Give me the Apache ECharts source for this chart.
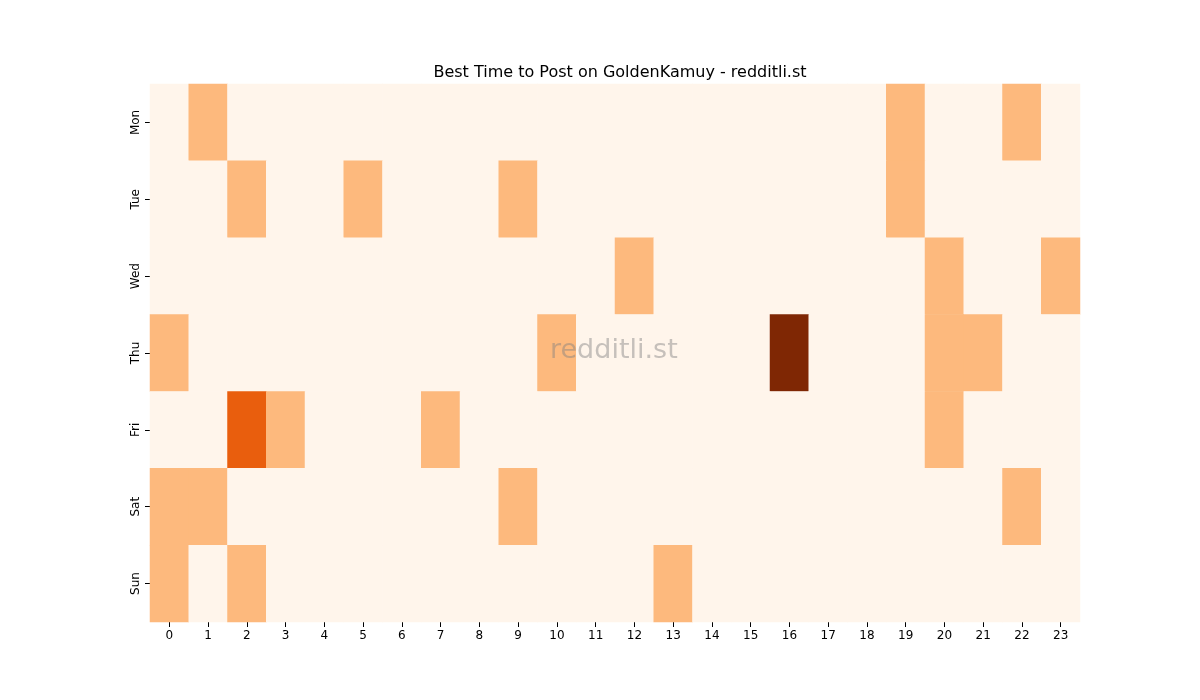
<!DOCTYPE html>
<html>
<head>
<meta charset="utf-8">
<script src="https://cdn.jsdelivr.net/npm/echarts@6/dist/echarts.min.js"></script>
<style>html,body{margin:0;padding:0;background:#fff}#chart{width:1200px;height:700px}</style>
</head>
<body>
<div id="chart"></div>
<script>
var hours = ['0','1','2','3','4','5','6','7','8','9','10','11','12','13','14','15','16','17','18','19','20','21','22','23'];
var days = ['Mon','Tue','Wed','Thu','Fri','Sat','Sun'];
// non-zero cells per day: [hour, count]
var monCells = [[1,1],[19,1],[22,1]];
var tueCells = [[2,1],[5,1],[9,1],[19,1]];
var wedCells = [[12,1],[20,1],[23,1]];
var thuCells = [[0,1],[10,1],[16,3],[20,1],[21,1]];
var friCells = [[2,2],[3,1],[7,1],[20,1]];
var satCells = [[0,1],[1,1],[9,1],[22,1]];
var sunCells = [[0,1],[2,1],[13,1]];

var dayCells = [monCells, tueCells, wedCells, thuCells, friCells, satCells, sunCells];
var data = [];
days.forEach(function (d, di) {
    var row = {};
    dayCells[di].forEach(function (c) { row[c[0]] = c[1]; });
    hours.forEach(function (h, hi) {
        data.push([hi, di, row[hi] || 0]);
    });
});

var chart = echarts.init(document.getElementById('chart'));
chart.setOption({
    animation: false,
    title: {
        text: 'Best Time to Post on GoldenKamuy - redditli.st',
        left: 615, top: 60, textAlign: 'center',
        textStyle: {fontSize: 16, fontWeight: 'normal', color: '#000', fontFamily: 'DejaVu Sans'}
    },
    graphic: [{
        type: 'text', left: 550, top: 337, z: 100,
        style: {text: 'redditli.st', fontSize: 27, fill: 'rgba(128,128,128,0.45)', fontFamily: 'DejaVu Sans'}
    }],
    grid: {left: 150, right: 120, top: 84, bottom: 78},
    xAxis: {
        type: 'category', data: hours,
        axisLine: {show: false},
        axisTick: {show: true, alignWithLabel: true, lineStyle: {color: '#000'}},
        axisLabel: {color: '#000', fontSize: 12, fontFamily: 'DejaVu Sans'},
        splitLine: {show: false}
    },
    yAxis: {
        type: 'category', data: days, inverse: true,
        axisLine: {show: false},
        axisTick: {show: true, alignWithLabel: true, lineStyle: {color: '#000'}},
        axisLabel: {color: '#000', fontSize: 12, rotate: 90, fontFamily: 'DejaVu Sans'},
        splitLine: {show: false}
    },
    visualMap: {
        show: false, type: 'piecewise', dimension: 2,
        pieces: [
            {value: 0, color: '#fff5eb'},
            {value: 1, color: '#fdb97d'},
            {value: 2, color: '#e95e0d'},
            {value: 3, color: '#7f2704'}
        ]
    },
    series: [{
        type: 'heatmap', data: data,
        itemStyle: {borderWidth: 0},
        emphasis: {disabled: true}
    }]
});
</script>
</body>
</html>
